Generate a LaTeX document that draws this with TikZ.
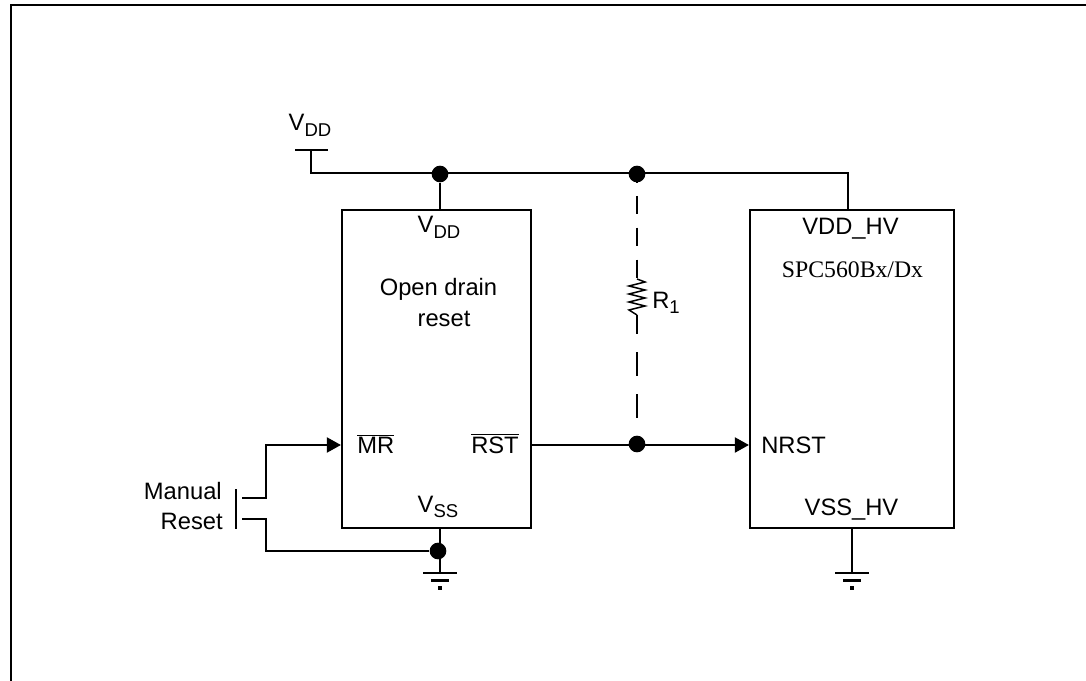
\documentclass[tikz,border=0pt]{standalone}
\usepackage{fontspec}
\setmainfont{Liberation Sans}
\newfontfamily\serifchip{Liberation Serif}
\usetikzlibrary{arrows.meta,positioning,calc}

\newcommand{\subtxt}[1]{\raisebox{-4.2pt}{\fontsize{13.9}{14}\selectfont #1}}
\newcommand{\barred}[1]{$\overline{\mbox{#1}}$}

\tikzset{
    wire/.style={line width=1.6pt},
    bar/.style={line width=2pt},
    chip/.style={draw,line width=1.6pt,inner sep=0pt},
    joint/.style={circle,fill=black,inner sep=0pt,minimum size=12.5pt},
    lbl/.style={inner sep=0pt,font=\fontsize{17.8}{20}\selectfont},
    gndtip/.style={fill=black,inner sep=0pt,minimum size=2.4pt},
}

\begin{document}
\begin{tikzpicture}[x=0.75pt,y=-0.75pt,>={Triangle[length=10.5pt,width=11.2pt]}]
    \useasboundingbox (0,0) rectangle (1086,681);

    % Outer frame
    \coordinate (frameTL) at (11,5);
    \coordinate (frameTR) at (1086,5);
    \coordinate (frameBL) at (11,681);
    \draw[wire] (frameBL) -- (frameTL) -- (frameTR);

    % Chips
    \node[chip,minimum width=141.75pt,minimum height=238.5pt] (reset) at (436.5,369) {};
    \node[chip,minimum width=153pt,minimum height=238.5pt] (mcu) at (852,369) {};

    % Supply rail
    \coordinate (vddtop) at (311,150);
    \coordinate (vddL) at (295,150);
    \coordinate (vddR) at (328,150);
    \node[joint] (jA) at (440,174) {};
    \node[joint] (jB) at (637,174) {};
    \coordinate (railR) at (848,173);
    \draw[bar] (vddL) -- (vddR);
    \draw[wire] (vddtop) |- (railR) -- (railR |- mcu.north);
    \draw[wire] (jA) -- (jA |- reset.north);

    % Reset line
    \node[joint] (jC) at (637,444) {};
    \coordinate (rstout) at (reset.east |- 0,445);
    \coordinate (nrstin) at (mcu.west |- 0,445);
    \draw[wire,->] (rstout) -- (nrstin);

    % Pull-up resistor
    \coordinate (rtop) at (637,279);
    \coordinate (rbot) at (637,315);
    \draw[wire,dash pattern=on 13.9pt off 10pt,dash phase=7.5pt] (jB.center) -- (rtop);
    \draw[wire,dash pattern=on 18pt off 13.5pt,dash phase=3.75pt] (rbot) -- (jC.center);
    \draw[line width=1.1pt] (rtop) -- ++(8,3) -- ++(-16,4) -- ++(16,4) -- ++(-16,4) -- ++(16,4) -- ++(-16,4) -- ++(16,4) -- ++(-16,4) -- (rbot);

    % Manual reset switch
    \coordinate (swbarT) at (236,489);
    \coordinate (swbarB) at (236,529);
    \coordinate (swA) at (242,498);
    \coordinate (swB) at (242,519);
    \coordinate (mrin) at (reset.west |- 0,445);
    \node[joint] (jD) at (438,551) {};
    \draw[wire] (swbarT) -- (swbarB);
    \draw[wire,->] (swA) -| (266,445) -- (mrin);
    \draw[wire] (swB) -| (266,551) -- (jD);

    % Grounds
    \coordinate (gndA) at (440,573);
    \coordinate (gndB) at (852,573);
    \draw[wire] (gndA |- reset.south) -- (gndA);
    \draw[wire] (gndB |- mcu.south) -- (gndB);
    \foreach \g in {gndA,gndB} {
        \draw[bar] ($(\g)+(-17,0)$) -- ($(\g)+(17,0)$);
        \draw[bar] ($(\g)+(-9,7.5)$) -- ($(\g)+(9,7.5)$);
        \node[gndtip] (\g tip) at ($(\g)+(0,15)$) {};
    }

    % Labels
    \node[lbl,anchor=base] (vddlbl) at (310,131) {V\subtxt{DD}};
    \node[lbl,anchor=base] (vddpin) at (439,233) {V\subtxt{DD}};
    \node[lbl,anchor=base] (opendrain) at (438.5,296) {Open drain};
    \node[lbl,anchor=base] (resetlbl) at (444,326) {reset};
    \node[lbl,anchor=base west] (mrlbl) at (357,453) {\barred{MR}};
    \node[lbl,anchor=base east] (rstlbl) at (519,453) {\barred{RST}};
    \node[lbl,anchor=base] (vsspin) at (438,512) {V\subtxt{SS}};
    \node[lbl,anchor=base east] (manual) at (222,499) {Manual};
    \node[lbl,anchor=base east] (resetsw) at (223,529) {Reset};
    \node[lbl,anchor=base west] (rlbl) at (652,308) {R\subtxt{1}};
    \node[lbl,anchor=base] (vddhv) at (850.5,235) {VDD\_HV};
    \node[lbl,anchor=base,font=\fontsize{17.8}{20}\serifchip] (partno) at (852.5,277) {SPC560Bx/Dx};
    \node[lbl,anchor=base west] (nrst) at (761,453) {NRST};
    \node[lbl,anchor=base] (vsshv) at (851.5,515) {VSS\_HV};
\end{tikzpicture}
\end{document}
